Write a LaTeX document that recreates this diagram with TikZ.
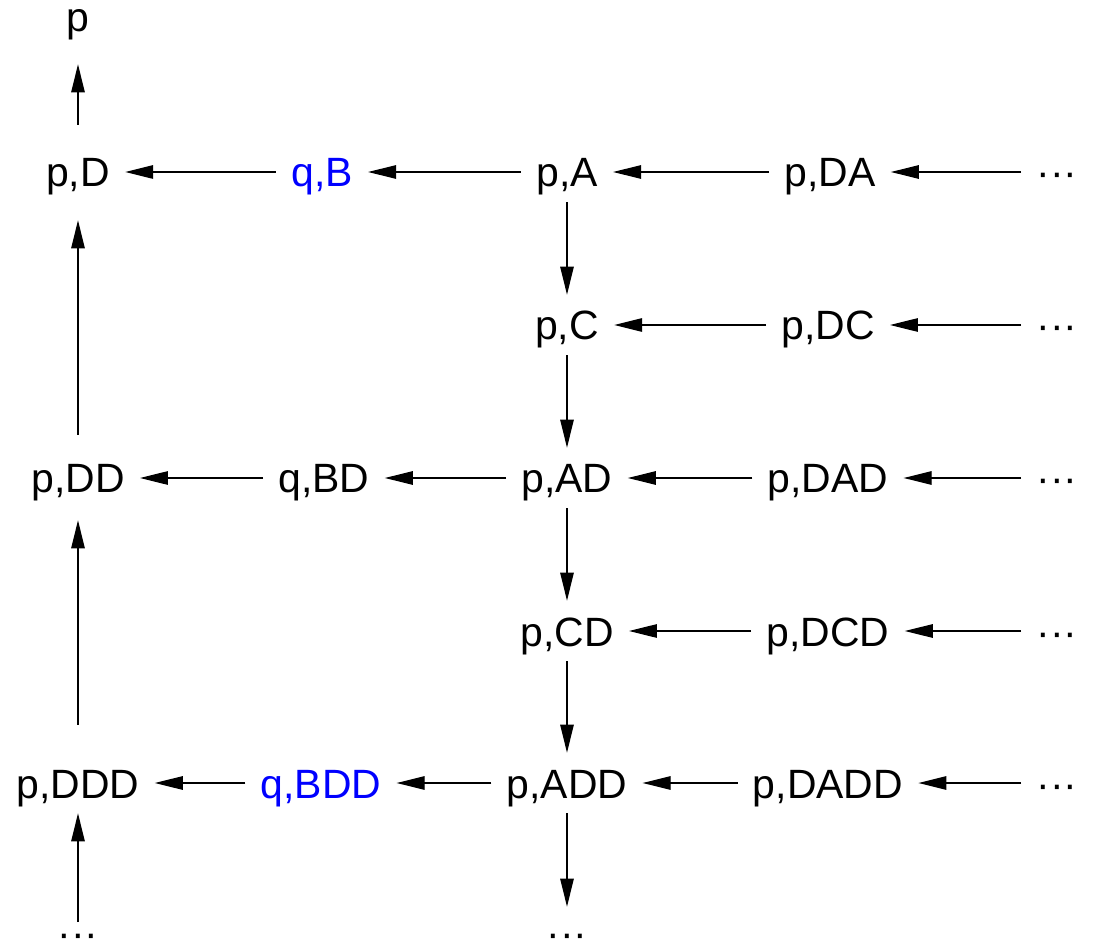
\documentclass[tikz,border=0pt]{standalone}
\usepackage{fontspec}
\setmainfont{Liberation Sans}
\usepackage{xcolor}
\usetikzlibrary{arrows.meta}
\definecolor{qblue}{RGB}{0,0,255}
\tikzset{
  st/.style={font=\fontsize{23.3}{28}\selectfont, inner xsep=0.3cm, inner ysep=0.3cm,
    text height=0.6cm, text depth=0pt, anchor=base},
  qst/.style={st, text=qblue},
  arr/.style={-{Triangle[length=0.56cm,width=0.27cm]}, line width=0.7pt}
}
\begin{document}
\begin{tikzpicture}[x=0.02cm, y=-0.02cm]
    \useasboundingbox (0,0) rectangle (1093,942);
    % nodes, placed at their baselines
    \node[st] (p) at (78,32) {p};
    \node[st] (pD) at (78,187) {p,D};
    \node[qst] (qB) at (322,187) {q,B};
    \node[st] (pA) at (567,187) {p,A};
    \node[st] (pDA) at (830,187) {p,DA};
    \node[st] (dA) at (1057,187) {···};
    \node[st] (pC) at (567,340) {p,C};
    \node[st] (pDC) at (828,340) {p,DC};
    \node[st] (dC) at (1057,340) {···};
    \node[st] (pDD) at (78,493) {p,DD};
    \node[st] (qBD) at (324,493) {q,BD};
    \node[st] (pAD) at (567,493) {p,AD};
    \node[st] (pDAD) at (828,493) {p,DAD};
    \node[st] (dAD) at (1057,493) {···};
    \node[st] (pCD) at (567,646) {p,CD};
    \node[st] (pDCD) at (828,646) {p,DCD};
    \node[st] (dCD) at (1057,646) {···};
    \node[st] (pDDD) at (78,798) {p,DDD};
    \node[qst] (qBDD) at (321,798) {q,BDD};
    \node[st] (pADD) at (567,798) {p,ADD};
    \node[st] (pDADD) at (828,798) {p,DADD};
    \node[st] (dADD) at (1057,798) {···};
    \node[st] (dL) at (78,947) {···};
    \node[st] (dR) at (567,947) {···};
    % rows
    \draw[arr] (qB) -- (pD);
    \draw[arr] (pA) -- (qB);
    \draw[arr] (pDA) -- (pA);
    \draw[arr] (dA) -- (pDA);
    \draw[arr] (pDC) -- (pC);
    \draw[arr] (dC) -- (pDC);
    \draw[arr] (qBD) -- (pDD);
    \draw[arr] (pAD) -- (qBD);
    \draw[arr] (pDAD) -- (pAD);
    \draw[arr] (dAD) -- (pDAD);
    \draw[arr] (pDCD) -- (pCD);
    \draw[arr] (dCD) -- (pDCD);
    \draw[arr] (qBDD) -- (pDDD);
    \draw[arr] (pADD) -- (qBDD);
    \draw[arr] (pDADD) -- (pADD);
    \draw[arr] (dADD) -- (pDADD);
    % columns
    \draw[arr, shorten <=0.34cm, shorten >=0.34cm] (pD) -- (p);
    \draw[arr, shorten <=0.26cm, shorten >=0.36cm] (pDD) -- (pD);
    \draw[arr, shorten <=0.56cm, shorten >=0.24cm] (pDDD) -- (pDD);
    \draw[arr, shorten <=0.2cm] (dL.center) -- (pDDD);
    \draw[arr] (pA) -- (pC);
    \draw[arr] (pC) -- (pAD);
    \draw[arr] (pAD) -- (pCD);
    \draw[arr] (pCD) -- (pADD);
    \draw[arr, shorten >=-0.1cm] (pADD) -- (dR);
\end{tikzpicture}
\end{document}
